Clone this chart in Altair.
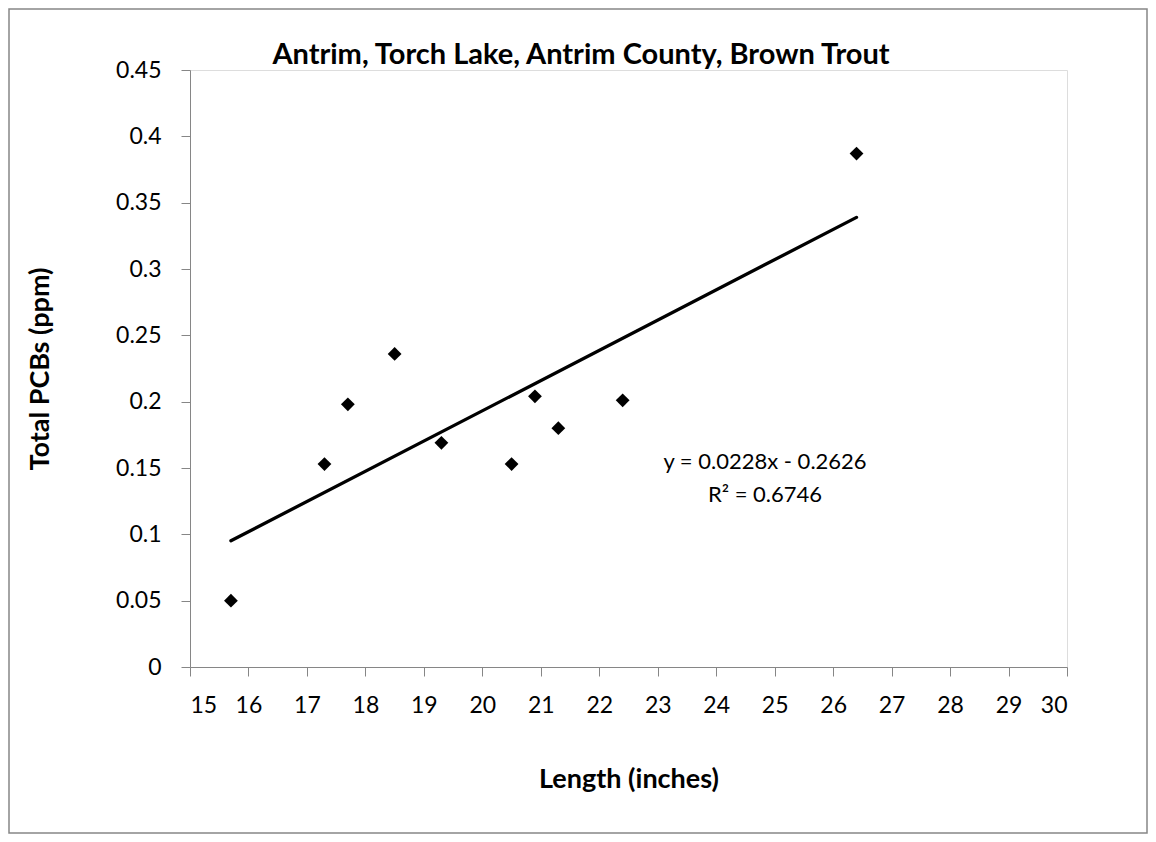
import altair as alt
import pandas as pd

length_in = [15.7, 17.3, 17.7, 18.5, 19.3, 20.5, 20.9, 21.3, 22.4, 26.4]
pcb_ppm = [0.050, 0.153, 0.198, 0.236, 0.169, 0.153, 0.204, 0.180, 0.201, 0.387]
x_ticks = list(range(15, 31))
y_ticks = [0, 0.05, 0.1, 0.15, 0.2, 0.25, 0.3, 0.35, 0.4, 0.45]
title_text = "Antrim, Torch Lake, Antrim County, Brown Trout"
eq_text = "y = 0.0228x - 0.2626"
r2_text = "R² = 0.6746"

FONT = "Lato"
AXIS_GRAY = "#868686"
W, H = 877, 597
PAD_L, PAD_T = 182, 62
TOTAL_W, TOTAL_H = 1140, 826

df = pd.DataFrame({"length": length_in, "pcb": pcb_ppm})

xs = alt.Scale(domain=[15, 30], nice=False, zero=False)
ys = alt.Scale(domain=[0, 0.45], nice=False, zero=True)

xaxis = alt.Axis(values=x_ticks, title="Length (inches)", grid=False, domainColor=AXIS_GRAY,
                 tickColor=AXIS_GRAY, tickSize=9, labelFontSize=23, labelFont=FONT, labelColor="black",
                 labelPadding=18, format="d", titleFont=FONT, titleFontSize=27, titleFontWeight="bold",
                 titleColor="black", titleY=112, titleBaseline="middle")
yaxis = alt.Axis(values=y_ticks, title="Total PCBs (ppm)", grid=False, domainColor=AXIS_GRAY,
                 tickColor=AXIS_GRAY, tickSize=9, labelFontSize=23, labelFont=FONT, labelColor="black",
                 labelPadding=20, format=".2~f", titleFont=FONT, titleFontSize=27, titleFontWeight="bold",
                 titleColor="black", titleX=-150, titleY=H / 2, titleBaseline="middle", titleAngle=-90)

points = alt.Chart(df).mark_point(shape="diamond", filled=True, color="black", size=190, opacity=1).encode(
    x=alt.X("length:Q", scale=xs, axis=xaxis),
    y=alt.Y("pcb:Q", scale=ys, axis=yaxis),
)

trend = alt.Chart(df).transform_regression("length", "pcb").mark_line(
    color="black", strokeWidth=3.3, strokeCap="round").encode(
    x=alt.X("length:Q", scale=xs),
    y=alt.Y("pcb:Q", scale=ys),
)

one = pd.DataFrame({"t": [eq_text], "r": [r2_text], "h": [title_text]})

eq = alt.Chart(one).mark_text(font=FONT, fontSize=22, color="black", align="center", baseline="middle").encode(
    text="t:N", x=alt.value(575), y=alt.value(392))
r2 = alt.Chart(one).mark_text(font=FONT, fontSize=22, color="black", align="center", baseline="middle").encode(
    text="r:N", x=alt.value(575), y=alt.value(425))
ttl = alt.Chart(one).mark_text(font=FONT, fontSize=29, fontWeight="bold", color="black", align="center",
                               baseline="middle").encode(
    text="h:N", x=alt.value(391), y=alt.value(-15))

border = alt.Chart(one).mark_rect(fillOpacity=0, stroke=AXIS_GRAY, strokeWidth=1.5).encode(
    x=alt.value(-PAD_L + 1), x2=alt.value(TOTAL_W - PAD_L - 1),
    y=alt.value(-PAD_T + 1), y2=alt.value(TOTAL_H - PAD_T - 1))

chart = alt.layer(border, trend, points, eq, r2, ttl).properties(
    width=W, height=H,
    autosize=alt.AutoSizeParams(type="none"),
    padding={"left": PAD_L, "top": PAD_T, "right": TOTAL_W - PAD_L - W, "bottom": TOTAL_H - PAD_T - H},
).configure_view(stroke=None).configure(background="white")

chart.save("out.html", embed_options={"renderer": "svg", "actions": False})
